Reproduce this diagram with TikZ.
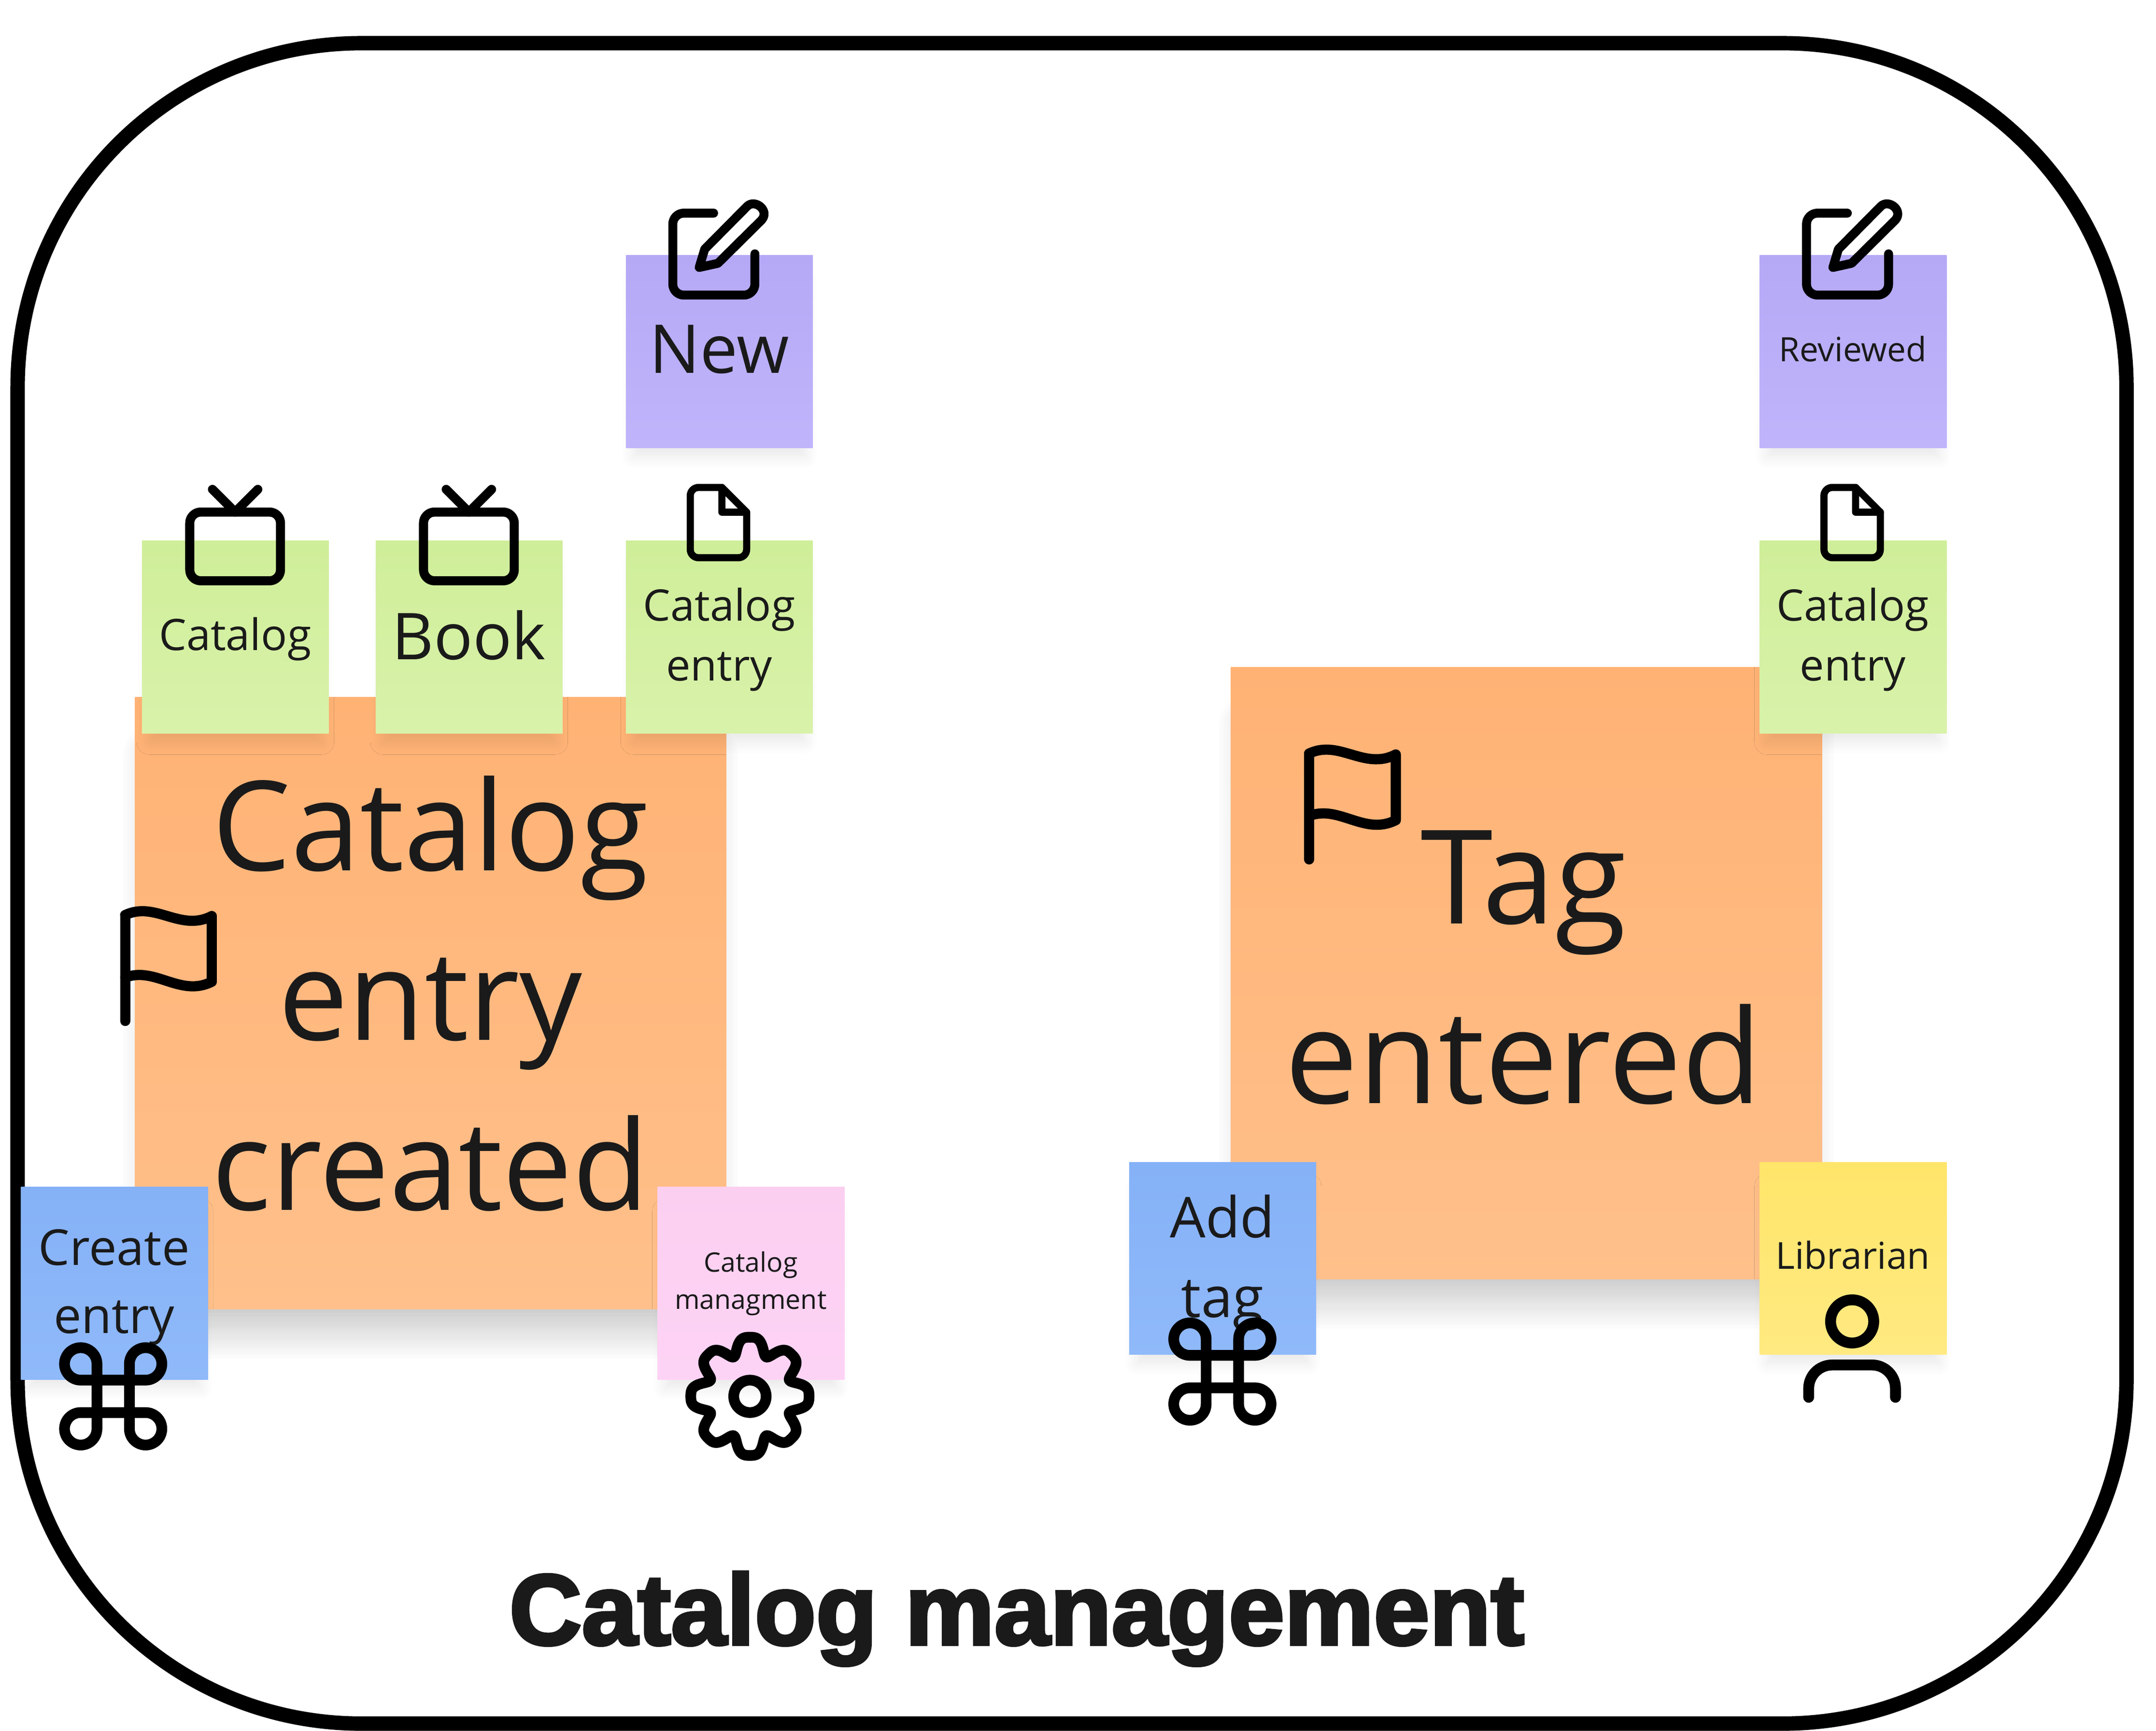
\documentclass[tikz,border=0pt]{standalone}
\usepackage{fontspec}
\setmainfont{Open Sans}[Kerning=Off]
\newfontfamily\titlefont{Liberation Sans}[BoldFeatures={FakeBold=3}]
\usetikzlibrary{shadows.blur}

\definecolor{inkgrey}{HTML}{1A1A1A}
\definecolor{orangetop}{HTML}{FFB274}
\definecolor{orangebot}{HTML}{FFC08B}
\definecolor{greentop}{HTML}{CFEE99}
\definecolor{greenbot}{HTML}{D9F2AA}
\definecolor{purpletop}{HTML}{B5A9F6}
\definecolor{purplebot}{HTML}{C0B4FB}
\definecolor{bluetop}{HTML}{85B1F7}
\definecolor{bluebot}{HTML}{8FB9F9}
\definecolor{pinktop}{HTML}{FBCFF0}
\definecolor{pinkbot}{HTML}{FDD3F5}
\definecolor{yellowtop}{HTML}{FFE569}
\definecolor{yellowbot}{HTML}{FFEA82}

\tikzset{
  declare function={gearr(\t)=43-3*(1-cos(8*\t))*(1-cos(8*\t));},
  sticky/.style={minimum width=136pt,minimum height=140pt,inner sep=0pt,anchor=north west,
    top color=#1top,bottom color=#1bot,
    blur shadow={shadow xshift=0pt,shadow yshift=-13pt,shadow blur radius=10pt,shadow scale=.92,
      shadow blur steps=12,shadow opacity=9}},
  bigsticky/.style={sticky=orange,minimum width=430pt,minimum height=445pt,
    blur shadow={shadow xshift=0pt,shadow yshift=-30pt,shadow blur radius=24pt,shadow scale=.94,
      shadow blur steps=24,shadow opacity=12}},
  txt/.style={text=inkgrey,align=center,inner sep=0pt,anchor=base},
  icon/.style={draw=black,line width=#1,line cap=round,line join=round},
  pics/tvicon/.style={code={
    \draw[icon=6.6,rounded corners=8pt] (-33,0) rectangle (33,50);
    \draw[icon=6.6] (-16.5,-16.5) -- (0,0) -- (16.5,-16.5);
  }},
  pics/editicon/.style={code={
    \draw[icon=6.5,rounded corners=8pt] (-4,-30) -- (-33.7,-30) -- (-33.7,29.6) -- (26,29.6) -- (26,-0.4);
    \draw[icon=6.5] (-14.5,9.5) -- (-10.5,-3.8) -- (20.4,-35)
      .. controls (26,-40.5) and (37,-32) .. (30.9,-25) -- (-0.9,6.5) -- cycle;
  }},
  pics/fileicon/.style={code={
    \draw[icon=5.2,rounded corners=6pt] (2,-30.5) -- (-21,-30.5) -- (-21,20.6) -- (20,20.6) -- (20,-12.5);
    \draw[icon=5.2] (20,-12.5) -- (2,-30.5) -- (2,-12.5) -- cycle;
  }},
  pics/flagicon/.style={code={
    \draw[icon=7.4] (0,43.5) -- (0,-33.5);
    \draw[icon=7.4] (0,-33.5) .. controls (22,-44) and (40,-21) .. (63,-32.8) -- (63,15)
      .. controls (40,26.5) and (22,3.6) .. (0,11.9);
  }},
  pics/commandicon/.style={code={
    \draw[icon=7.8] (-11.8,23.6) -- (-11.8,-23.6) arc[start angle=0,end angle=270,radius=11.8pt]
      -- (23.6,-11.8) arc[start angle=-90,end angle=180,radius=11.8pt]
      -- (11.8,23.6) arc[start angle=180,end angle=450,radius=11.8pt]
      -- (-23.6,11.8) arc[start angle=90,end angle=360,radius=11.8pt] -- cycle;
  }}
}

\begin{document}
\begin{tikzpicture}[x=1pt,y=-1pt]
  \useasboundingbox (0,0) rectangle (1568,1258.6);

  % Frame
  \coordinate (frame top left) at (12.8,31.4);
  \coordinate (frame bottom right) at (1546.5,1253.5);
  \draw[line width=10.5pt,rounded corners=250pt] (frame top left) rectangle (frame bottom right);

  % Left event
  \node[bigsticky] (createdNote) at (98,507) {};
  \node[txt,font=\fontsize{90.7}{123.5}\selectfont] (createdText) at (313,880) {Catalog\\entry\\created};

  % Right event
  \node[bigsticky] (taggedNote) at (895,485) {};
  \node[txt,font=\fontsize{95}{130.8}\selectfont] (taggedText) at (1108,802.5) {Tag\\entered};

  % Small notes
  \node[sticky=green] (catalogNote) at (103,393) {};
  \node[sticky=green] (bookNote) at (273,393) {};
  \node[sticky=green] (entryNote) at (455,393) {};
  \node[sticky=purple] (newNote) at (455,185.5) {};
  \node[sticky=purple] (reviewedNote) at (1279.5,185.5) {};
  \node[sticky=green] (reviewedEntryNote) at (1279.5,393) {};
  \node[sticky=blue] (createNote) at (15,863) {};
  \node[sticky=pink] (contextNote) at (478,863) {};
  \node[sticky=blue] (addNote) at (821,845) {};
  \node[sticky=yellow] (librarianNote) at (1279.5,845) {};

  % Labels
  \node[txt,font=\fontsize{31.6}{44}\selectfont] (catalogText) at (171,473) {Catalog};
  \node[txt,font=\fontsize{47}{60}\selectfont] (bookText) at (341,479.5) {Book};
  \node[txt,font=\fontsize{31.6}{43.5}\selectfont] (entryText) at (523,495) {Catalog\\entry};
  \node[txt,font=\fontsize{49}{60}\selectfont] (newText) at (523,271.5) {New};
  \node[txt,font=\fontsize{24.4}{32}\selectfont] (reviewedText) at (1347.5,263) {Reviewed};
  \node[txt,font=\fontsize{31.6}{43.5}\selectfont] (reviewedEntryText) at (1347.5,495) {Catalog\\entry};
  \node[txt,font=\fontsize{36}{49.5}\selectfont] (createText) at (83,969.5) {Create\\entry};
  \node[txt,font=\fontsize{19.5}{27}\selectfont] (contextText) at (546,952) {Catalog\\managment};
  \node[txt,font=\fontsize{41}{58}\selectfont] (addText) at (889,958) {Add\\tag};
  \node[txt,font=\fontsize{27}{36}\selectfont] (librarianText) at (1347.5,923) {Librarian};

  % Icons
  \pic at (171,372.4) {tvicon};
  \pic at (341,372.4) {tvicon};
  \pic at (523,185) {editicon};
  \pic at (1347.5,185) {editicon};
  \pic at (523,385) {fileicon};
  \pic at (1347.5,385) {fileicon};
  \pic at (91,699) {flagicon};
  \pic at (952.1,581.5) {flagicon};
  \pic at (82.3,1015.5) {commandicon};
  \pic at (889,997.5) {commandicon};

  % Gear
  \begin{scope}[shift={(545.4,1015.5)}]
    \draw[icon=7.8] plot[domain=0:360,samples=145,smooth cycle] ({gearr(\x)*cos(\x)},{gearr(\x)*sin(\x)});
    \draw[icon=7.8] (0,0) circle[radius=11.8pt];
  \end{scope}

  % Person
  \draw[icon=7.9] (1347,961) circle[radius=15.7pt];
  \draw[icon=7.9,rounded corners=17pt] (1315.4,1016.2) -- (1315.4,992.7) -- (1378.5,992.7) -- (1378.5,1016.2);

  % Title
  \node[txt,font=\fontsize{73}{80}\selectfont\titlefont\bfseries] (titleText) at (739.5,1196) {Catalog management};
\end{tikzpicture}
\end{document}
